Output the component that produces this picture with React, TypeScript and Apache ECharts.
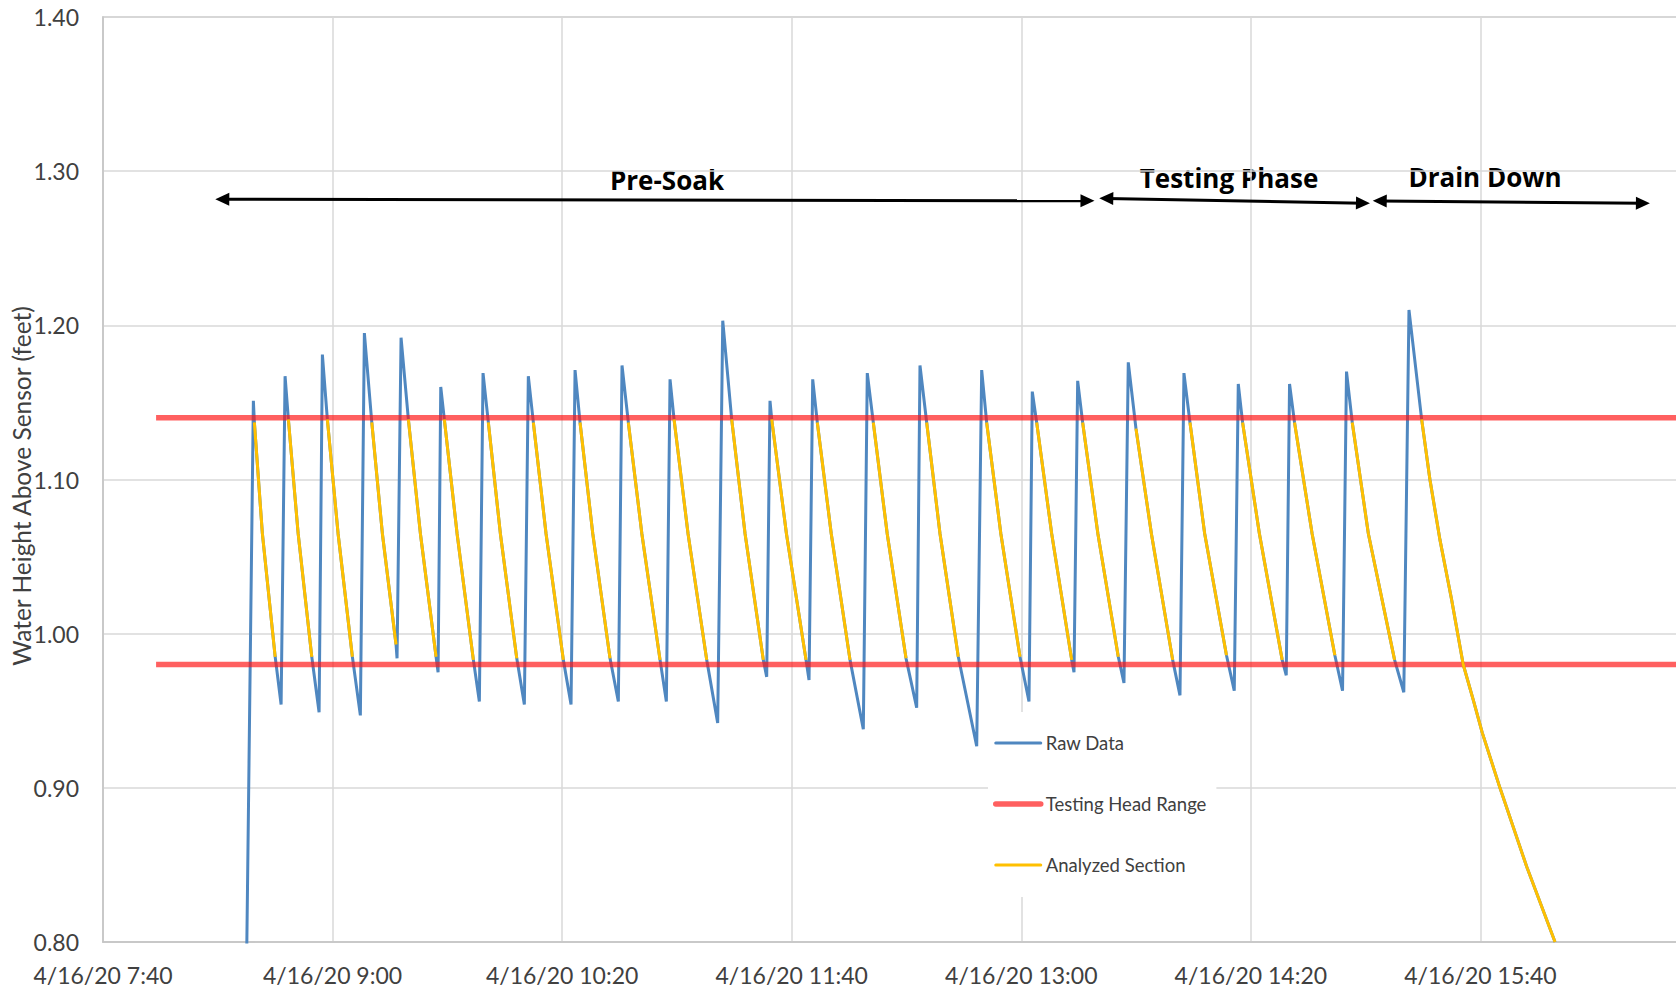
import { useEffect, useRef } from 'react';
import * as echarts from 'echarts';

// ---------- axis settings ----------
const DATE_LABEL = '4/16/20';
const xAxisStart = '7:40';
const xAxisEnd = '17:00';
const xTickStepMinutes = 80;
const yAxisMin = 0.8;
const yAxisMax = 1.4;
const yTickStep = 0.1;
const yAxisTitle = 'Water Height Above Sensor (feet)';

const seriesNames = ['Raw Data', 'Testing Head Range', 'Analyzed Section'];

// ---------- data ----------
const riseStartTime = '8:30:00';
const riseStartValue = 0.78;

const peakTimes = ['8:32:24', '8:43:27', '8:56:27', '9:11:05', '9:23:52', '9:37:42', '9:52:26', '10:08:13', '10:24:30', '10:40:52', '10:57:36', '11:15:58', '11:32:26', '11:47:19', '12:06:20', '12:24:42', '12:46:12', '13:03:50', '13:19:39', '13:37:17', '13:56:41', '14:15:37', '14:33:29', '14:53:20', '15:15:06'];
const peakValues = [1.151, 1.167, 1.181, 1.195, 1.192, 1.160, 1.169, 1.167, 1.171, 1.174, 1.165, 1.203, 1.151, 1.165, 1.169, 1.174, 1.171, 1.157, 1.164, 1.176, 1.169, 1.162, 1.162, 1.170, 1.210];

const analyzedStartTimes = ['8:32:45', '8:44:36', '8:58:11', '9:13:40', '9:26:25', '9:38:57', '9:54:17', '10:09:58', '10:26:14', '10:43:04', '10:59:00', '11:19:05', '11:33:02', '11:48:55', '12:08:26', '12:27:02', '12:47:56', '13:05:22', '13:21:23', '13:39:58', '13:58:47', '14:17:07', '14:35:13', '14:55:20', '15:19:31'];
const analyzedStartValues = [1.137, 1.139, 1.139, 1.137, 1.139, 1.139, 1.137, 1.137, 1.137, 1.137, 1.139, 1.139, 1.139, 1.137, 1.137, 1.137, 1.137, 1.137, 1.137, 1.133, 1.137, 1.137, 1.137, 1.137, 1.139];

const analyzedMidTimes = ['8:35:32', '8:48:00', '9:01:55', '9:17:21', '9:30:36', '9:43:23', '9:58:28', '10:14:23', '10:30:40', '10:47:46', '11:03:52', '11:23:44', '11:38:09', '11:53:46', '12:13:16', '12:31:40', '12:52:52', '13:10:35', '13:26:41', '13:45:20', '14:03:54', '14:22:58', '14:41:20', '15:00:56'];
const analyzedMidValues = [1.065, 1.065, 1.065, 1.065, 1.065, 1.065, 1.065, 1.065, 1.065, 1.065, 1.065, 1.065, 1.065, 1.065, 1.065, 1.065, 1.065, 1.065, 1.065, 1.065, 1.065, 1.065, 1.065, 1.065];

const analyzedEndTimes = ['8:40:00', '8:52:45', '9:06:54', '9:22:07', '9:36:04', '9:49:04', '10:04:11', '10:20:25', '10:36:41', '10:54:07', '11:10:23', '11:30:06', '11:44:59', '12:00:19', '12:19:50', '12:38:03', '12:59:33', '13:17:34', '13:33:48', '13:52:45', '14:11:30', '14:30:55', '14:49:16', '15:10:05'];
const analyzedEndValues = [0.985, 0.985, 0.985, 0.993, 0.985, 0.983, 0.984, 0.983, 0.984, 0.983, 0.983, 0.983, 0.983, 0.983, 0.984, 0.985, 0.985, 0.983, 0.985, 0.983, 0.986, 0.983, 0.986, 0.983];

const troughTimes = ['8:42:04', '8:55:18', '9:09:41', '9:22:28', '9:36:46', '9:51:09', '10:06:50', '10:23:06', '10:39:35', '10:56:19', '11:14:12', '11:31:17', '11:46:02', '12:04:57', '12:23:33', '12:44:28', '13:02:41', '13:18:22', '13:35:47', '13:55:18', '14:14:13', '14:32:20', '14:51:57', '15:13:18'];
const troughValues = [0.954, 0.949, 0.947, 0.984, 0.975, 0.956, 0.954, 0.954, 0.956, 0.956, 0.942, 0.972, 0.970, 0.938, 0.952, 0.927, 0.956, 0.975, 0.968, 0.960, 0.963, 0.973, 0.963, 0.962];

const drainTimes = ['15:22:24', '15:25:53', '15:29:58', '15:34:00', '15:37:30', '15:40:36', '15:46:48', '15:56:06', '16:06:00'];
const drainValues = [1.100, 1.061, 1.022, 0.980, 0.957, 0.936, 0.900, 0.849, 0.800];

const headRangeValues = [1.14, 0.98];
const headRangeStart = '7:58:30';
const headRangeEnd = '17:00:00';

// ---------- annotations ----------
const phaseLabels = ['Pre-Soak', 'Testing Phase', 'Drain Down'];
const phaseArrowFromTimes = ['8:21:34', '13:29:37', '15:04:55'];
const phaseArrowFromValues = [1.2818, 1.2823, 1.2807];
const phaseArrowToTimes = ['13:23:04', '14:59:04', '16:36:37'];
const phaseArrowToValues = [1.2808, 1.2792, 1.2792];

const BLUE = '#4F87C0';
const RED = 'rgba(255, 20, 20, 0.68)';
const GOLD = '#FFC000';
const TEXT = '#404040';
const FONT = 'Lato, "Noto Sans", sans-serif';
const BOLD_FONT = '"Open Sans", Lato, sans-serif';
const seriesColors = [BLUE, RED, GOLD];
const seriesWidths = [3, 5.5, 3];

const toMin = (s: string) => {
  const [h, m, sec = '0'] = s.split(':');
  return Number(h) * 60 + Number(m) + Number(sec) / 60;
};
const fmtTime = (v: number) => {
  const total = Math.round(v);
  const h = Math.floor(total / 60);
  const m = total - h * 60;
  return `${DATE_LABEL} ${h}:${String(m).padStart(2, '0')}`;
};

function buildRaw() {
  const out: any[] = [[toMin(riseStartTime), riseStartValue]];
  peakTimes.forEach((t, i) => {
    out.push([toMin(t), peakValues[i]]);
    out.push([toMin(analyzedStartTimes[i]), analyzedStartValues[i]]);
    if (i < troughTimes.length) {
      out.push([toMin(analyzedMidTimes[i]), analyzedMidValues[i]]);
      out.push([toMin(analyzedEndTimes[i]), analyzedEndValues[i]]);
      out.push([toMin(troughTimes[i]), troughValues[i]]);
    }
  });
  drainTimes.forEach((t, i) => out.push([toMin(t), drainValues[i]]));
  return out;
}

function buildAnalyzed() {
  const out: any[] = [];
  analyzedStartTimes.forEach((t, i) => {
    out.push([toMin(t), analyzedStartValues[i]]);
    if (i < analyzedEndTimes.length) {
      out.push([toMin(analyzedMidTimes[i]), analyzedMidValues[i]]);
      out.push([toMin(analyzedEndTimes[i]), analyzedEndValues[i]]);
      out.push([toMin(analyzedEndTimes[i]), '-']);
    }
  });
  drainTimes.forEach((t, i) => out.push([toMin(t), drainValues[i]]));
  return out;
}

function buildHeadRange() {
  const out: any[] = [];
  headRangeValues.forEach((v, i) => {
    if (i > 0) out.push([toMin(headRangeEnd), '-']);
    out.push([toMin(headRangeStart), v]);
    out.push([toMin(headRangeEnd), v]);
  });
  return out;
}

export default function App() {
  const ref = useRef<HTMLDivElement>(null);
  useEffect(() => {
    if (!ref.current) return;
    const chart = echarts.init(ref.current, undefined, { renderer: 'svg' });

    const labelPos = [
      { x: 667, y: 180 },
      { x: 1229, y: 178 },
      { x: 1485, y: 177 },
    ];

    chart.setOption({
      animation: false,
      backgroundColor: '#ffffff',
      grid: {
        left: 103,
        right: -34,
        top: 17,
        bottom: 51,
        containLabel: false,
        outerBoundsMode: 'none',
        show: true,
        borderColor: '#c4c4c4',
        borderWidth: 1.5,
      },
      xAxis: {
        type: 'value',
        min: toMin(xAxisStart),
        max: toMin(xAxisEnd),
        interval: xTickStepMinutes,
        axisLine: { show: true, lineStyle: { color: '#c4c4c4', width: 1.5 } },
        axisTick: { show: false },
        splitLine: { show: true, lineStyle: { color: '#d9d9d9', width: 1.5 } },
        axisLabel: {
          formatter: fmtTime,
          fontFamily: FONT,
          fontSize: 23,
          color: TEXT,
          margin: 21,
          showMaxLabel: false,
        },
      },
      yAxis: {
        type: 'value',
        min: yAxisMin,
        max: yAxisMax,
        interval: yTickStep,
        axisLine: { show: true, lineStyle: { color: '#c4c4c4', width: 1.5 } },
        axisTick: { show: false },
        splitLine: { show: true, lineStyle: { color: '#d9d9d9', width: 1.5 } },
        axisLabel: {
          formatter: (v: number) => v.toFixed(2),
          fontFamily: FONT,
          fontSize: 23,
          color: TEXT,
          margin: 24,
        },
      },
      legend: {
        data: seriesNames.map((name, i) => ({
          name,
          lineStyle: { width: seriesWidths[i], color: seriesColors[i], cap: 'round' },
        })),
        orient: 'vertical',
        left: 988,
        top: 712,
        padding: [21, 10, 22, 5],
        itemGap: 41,
        itemWidth: 45,
        itemHeight: 20,
        backgroundColor: '#ffffff',
        selectedMode: false,
        itemStyle: { opacity: 0 },
        textStyle: { fontFamily: FONT, fontSize: 18.5, color: TEXT, lineHeight: 20 },
      },
      series: [
        {
          name: seriesNames[0],
          type: 'line',
          data: buildRaw(),
          symbol: 'none',
          showSymbol: false,
          clip: true,
          lineStyle: { color: BLUE, width: seriesWidths[0] },
          itemStyle: { color: BLUE },
          z: 2,
        },
        {
          name: seriesNames[1],
          type: 'line',
          data: buildHeadRange(),
          symbol: 'none',
          showSymbol: false,
          connectNulls: false,
          lineStyle: { color: RED, width: seriesWidths[1] },
          itemStyle: { color: RED },
          z: 3,
          markLine: {
            silent: true,
            symbol: ['triangle', 'triangle'],
            symbolSize: [13, 14],
            label: { show: false },
            lineStyle: { color: '#000000', width: 3, type: 'solid', opacity: 1 },
            itemStyle: { color: '#000000' },
            emphasis: { disabled: true },
            data: phaseArrowFromTimes.map((t, i) => [
              { coord: [toMin(t), phaseArrowFromValues[i]] },
              { coord: [toMin(phaseArrowToTimes[i]), phaseArrowToValues[i]] },
            ]),
          },
        },
        {
          name: seriesNames[2],
          type: 'line',
          data: buildAnalyzed(),
          symbol: 'none',
          showSymbol: false,
          connectNulls: false,
          clip: true,
          lineStyle: { color: GOLD, width: seriesWidths[2] },
          itemStyle: { color: GOLD },
          z: 4,
        },
      ],
      graphic: [
        {
          type: 'text',
          x: 21,
          y: 486,
          rotation: Math.PI / 2,
          style: {
            text: yAxisTitle,
            fontFamily: FONT,
            fontSize: 24.5,
            fill: TEXT,
            align: 'center',
            verticalAlign: 'middle',
          },
        },
        ...phaseLabels.map((label, i) => ({
          type: 'text',
          x: labelPos[i].x,
          y: labelPos[i].y,
          style: {
            text: label,
            fontFamily: BOLD_FONT,
            fontWeight: 'bold',
            fontSize: 26,
            fill: '#000000',
            align: 'center',
            verticalAlign: 'middle',
          },
        })),
      ],
    });

    return () => chart.dispose();
  }, []);

  return (
    <div
      ref={ref}
      style={{ position: 'absolute', left: 0, top: 0, width: 1676, height: 993, background: '#fff' }}
    />
  );
}
